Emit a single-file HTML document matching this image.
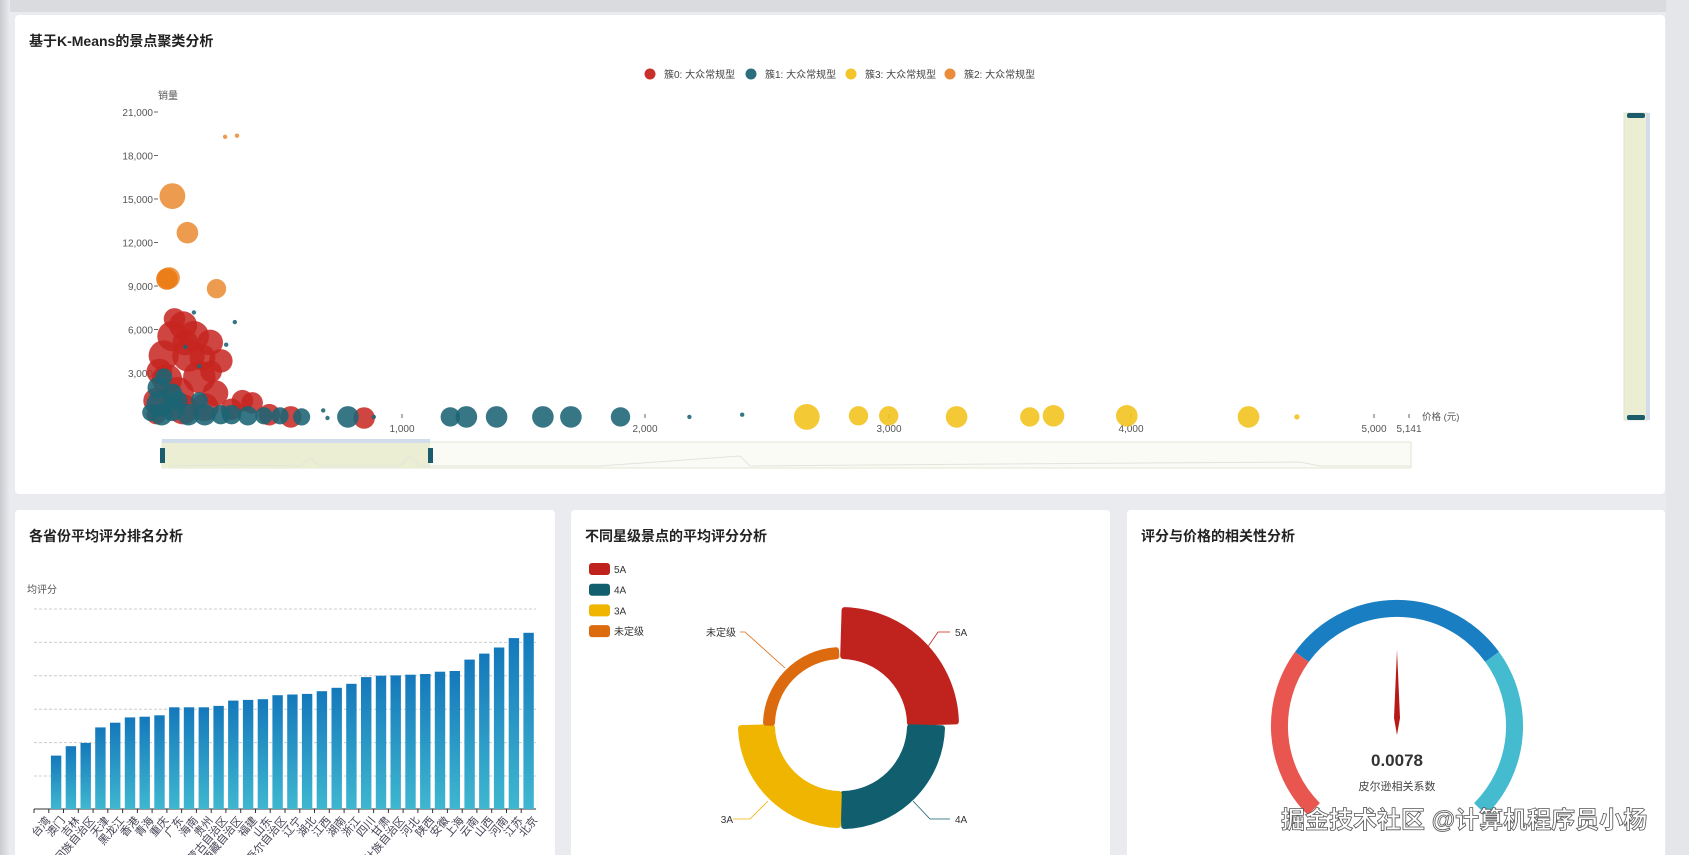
<!DOCTYPE html>
<html><head><meta charset="utf-8">
<style>
html,body{margin:0;padding:0;background:#e9ebef;}
body{width:1689px;height:855px;overflow:hidden;position:relative;font-family:"Liberation Sans","Noto Sans CJK SC",sans-serif;}
svg{position:absolute;left:0;top:0}
text{font-family:"Liberation Sans","Noto Sans CJK SC",sans-serif}
</style></head><body>
<svg id="s" width="1689" height="855" viewBox="0 0 1689 855" xmlns="http://www.w3.org/2000/svg">
<defs>
<linearGradient id="bg" x1="0" y1="0" x2="0" y2="1"><stop offset="0" stop-color="#1478bb"/><stop offset="1" stop-color="#3fb7d0"/></linearGradient>
<linearGradient id="lg" x1="0" y1="0" x2="1" y2="0"><stop offset="0" stop-color="#c9cbd0"/><stop offset="1" stop-color="#e9ebef"/></linearGradient>
</defs>
<rect x="0" y="0" width="1689" height="12" fill="#d9dbdf"/>
<rect x="0" y="0" width="10" height="855" fill="url(#lg)"/>
<rect x="1666" y="0" width="23" height="855" fill="#e4e6ea"/>
<rect x="15" y="15" width="1650" height="479" rx="4" fill="#fff"/>
<rect x="15" y="510" width="540" height="360" rx="4" fill="#fff"/>
<rect x="571" y="510" width="539" height="360" rx="4" fill="#fff"/>
<rect x="1127" y="510" width="538" height="360" rx="4" fill="#fff"/>
<text x="29" y="46" font-size="14" font-weight="bold" fill="#222">基于K-Means的景点聚类分析</text>
<text x="29" y="541" font-size="14" font-weight="bold" fill="#222">各省份平均评分排名分析</text>
<text x="585" y="541" font-size="14" font-weight="bold" fill="#222">不同星级景点的平均评分分析</text>
<text x="1141" y="541" font-size="14" font-weight="bold" fill="#222">评分与价格的相关性分析</text>
<g id="g"></g>
</svg>
<script>
var S=document.getElementById('g'),h='';
function c(x,y,r,f,o){h+='<circle cx="'+x+'" cy="'+y+'" r="'+r+'" fill="'+f+'" fill-opacity="'+(o||0.85)+'"/>';}
function t(x,y,s,sz,col,anc,extra){h+='<text x="'+x+'" y="'+y+'" font-size="'+sz+'" fill="'+col+'" text-anchor="'+(anc||'start')+'" '+(extra||'')+'>'+s+'</text>';}
var lg=[['簇0: 大众常规型','#c9302c'],['簇1: 大众常规型','#2a6f7b'],['簇3: 大众常规型','#f3c52b'],['簇2: 大众常规型','#ea8c3a']];
var lx=[650,751,851,950];
lg.forEach(function(l,i){c(lx[i],74,5.5,l[1],1);t(lx[i]+14,78,l[0],10,'#444');});
t(158,99,'销量',10,'#555');
var yl=['21,000','18,000','15,000','12,000','9,000','6,000','3,000'];
yl.forEach(function(s,i){var y=112+i*43.5;t(153,y+4,s,10,'#555','end');h+='<line x1="154" y1="'+y+'" x2="158" y2="'+y+'" stroke="#666"/>';});
[[402,'1,000'],[645,'2,000'],[889,'3,000'],[1131,'4,000'],[1374,'5,000'],[1409,'5,141']].forEach(function(a){h+='<line x1="'+a[0]+'" y1="414" x2="'+a[0]+'" y2="418" stroke="#666"/>';t(a[0],432,a[1],10,'#555','middle');});
t(1422,420,'价格 (元)',9.5,'#555');
var K=1.0772;
function P(list,col,o){list.forEach(function(p){c((p[0]*K).toFixed(1),(p[1]*K).toFixed(1),(p[2]*K).toFixed(1),col,o);});}
var red=[[160,312,14],[170,302,13],[180,312,14],[195,318,12],[152,330,14],[175,330,15],[205,335,11],[155,352,14],[185,350,15],[165,365,15],[200,365,12],[145,372,12],[225,372,10],[215,380,10],[250,385,10],[270,387,10],[190,378,13],[170,380,14],[148,345,12],[162,296,10],[338,388,10],[234,374,10],[196,345,10],[145,385,9],[172,318,12],[188,332,12]];
var teal=[[147,360,10],[148,375,12],[150,385,10],[160,380,11],[175,385,10],[190,385,10],[205,385,9],[215,385,9],[230,386,9],[245,386,8],[260,386,8],[280,387,8],[160,365,9],[152,350,8],[165,372,9],[185,372,8],[140,383,8],[323,387,10],[418,387,9],[433,387,10],[461,387,10],[504,387,10],[530,387,10],[576,387,9],[300,381,2],[304,388,2],[640,387,2],[689,385,2],[347,387,2],[218,299,2],[180,290,2],[210,320,2],[185,340,2],[172,322,2]];
var orange=[[160,182,12],[174,216,10],[157,258,10],[201,268,9],[209,127,2],[220,126,2]];
P(red,'#c52420',0.85);P(teal,'#1b6474',0.88);P(orange,'#ea8a30',0.85);
c(155*K,259*K,10*K,'#ec7c16',0.95);
var yel=[[749,387,12],[797,386,9],[825,386,9],[888,387,10],[956,387,9],[978,386,10],[1046,386,10],[1159,387,10],[1204,387,2.5]];
P(yel,'#f3c21a',0.88);
h+='<rect x="162" y="442" width="1249" height="26" fill="#fafbf5" stroke="#e2e6d8"/>';
h+='<rect x="162" y="442" width="268" height="26" fill="#eceed3"/>';
h+='<rect x="162" y="439" width="268" height="4" fill="#d3dcea"/>';
h+='<polyline points="170,466 230,465 300,466 310,458 320,466 400,466 410,456 420,466 500,466 600,466 740,456 750,466 1000,464 1300,462 1320,466 1411,466" fill="none" stroke="#e2e5dc"/>';
h+='<rect x="160" y="448" width="5" height="15" fill="#1c5b6b"/><rect x="428" y="448" width="5" height="15" fill="#1c5b6b"/>';
h+='<rect x="1624" y="113" width="24" height="307" fill="#eceed3" stroke="#dfe3d6"/>';
h+='<rect x="1646" y="113" width="4" height="307" fill="#d3dcea"/>';
h+='<rect x="1627" y="113" width="18" height="5" rx="2" fill="#1c5b6b"/><rect x="1627" y="415" width="18" height="5" rx="2" fill="#1c5b6b"/>';
t(27,593,'均评分',10,'#555');
for(var i=0;i<6;i++){var gy=609+i*33.4;h+='<line x1="34" y1="'+gy+'" x2="536" y2="'+gy+'" stroke="#ccc" stroke-dasharray="3,2"/>';}
h+='<line x1="34" y1="809" x2="536" y2="809" stroke="#333"/>';
var bh=[0,53.4,62.8,66.1,81.6,86.3,91.6,92.3,93.7,101.7,101.7,101.7,103.1,108.4,109.1,109.8,113.8,114.5,115.1,117.8,121.2,125.2,131.9,133.3,133.6,134.3,135,137.3,138,149.4,155.4,161.5,170.9,176.2];
var nm=['台湾','澳门','吉林','宁夏回族自治区','天津','黑龙江','香港','青海','重庆','广东','海南','贵州','内蒙古自治区','西藏自治区','福建','山东','新疆维吾尔自治区','辽宁','湖北','江西','湖南','浙江','四川','甘肃','广西壮族自治区','河北','陕西','安徽','上海','云南','山西','河南','江苏','北京'];
var sw=502/34;
bh.forEach(function(v,i){var cx=34+sw*(i+0.5);if(v>0)h+='<rect x="'+(cx-5.2).toFixed(1)+'" y="'+(809-v).toFixed(1)+'" width="10.4" height="'+v+'" fill="url(#bg)"/>';
h+='<line x1="'+(34+sw*i).toFixed(1)+'" y1="809" x2="'+(34+sw*i).toFixed(1)+'" y2="813" stroke="#333"/>';
t((cx+4).toFixed(1),816,nm[i],11,'#445','end','transform="rotate(-50 '+(cx+4).toFixed(1)+' 816)" dominant-baseline="hanging"');});
var CX=841,CY=725,RI=66;
function arc(a0,a1,ro,col){var ri=RI+3;ro-=3;a0+=1.8;a1-=1.8;function pt(r,a){var q=(a-90)*Math.PI/180;return (CX+r*Math.cos(q)).toFixed(1)+','+(CY+r*Math.sin(q)).toFixed(1);}
h+='<path d="M'+pt(ri,a0)+' L'+pt(ro,a0)+' A'+ro+','+ro+' 0 0 1 '+pt(ro,a1)+' L'+pt(ri,a1)+' A'+ri+','+ri+' 0 0 0 '+pt(ri,a0)+'Z" fill="'+col+'" stroke="'+col+'" stroke-width="6" stroke-linejoin="round"/>';}
arc(0,90,118,'#c0231e');arc(90,180,104,'#115e6e');arc(180,270,103,'#efb500');arc(270,358,78,'#dc6a0e');
h+='<polyline points="925,651 938,632 950,632" fill="none" stroke="#c0231e" stroke-width="0.8"/>';
h+='<polyline points="913,801 930,819 950,819" fill="none" stroke="#115e6e" stroke-width="0.8"/>';
h+='<polyline points="768,801 750,819 733,819" fill="none" stroke="#efb500" stroke-width="0.8"/>';
h+='<polyline points="785,668 745,632 740,632" fill="none" stroke="#dc6a0e" stroke-width="0.8"/>';
t(955,636,'5A',10,'#333');t(955,823,'4A',10,'#333');t(733,823,'3A',10,'#333','end');t(736,636,'未定级',10,'#333','end');
[['5A','#c0231e'],['4A','#115e6e'],['3A','#efb500'],['未定级','#dc6a0e']].forEach(function(l,i){var y=563+i*20.7;h+='<rect x="589" y="'+y+'" width="21" height="12" rx="3" fill="'+l[1]+'"/>';t(614,y+10,l[0],10,'#333');});
var GX=1397,GY=726,GR=117.5;
function garc(a0,a1,col){function pt(a){var q=a*Math.PI/180;return (GX+GR*Math.cos(q)).toFixed(1)+','+(GY-GR*Math.sin(q)).toFixed(1);}
h+='<path d="M'+pt(a0)+' A'+GR+','+GR+' 0 0 1 '+pt(a1)+'" fill="none" stroke="'+col+'" stroke-width="17"/>';}
garc(225,144,'#e8564f');garc(144,36,'#1a7fc2');garc(36,-45,'#45bbd0');
h+='<polygon points="1397,650 1400,718 1397,735 1394,718" fill="#b71a16"/>';
t(1397,766,'0.0078',17,'#333','middle','font-weight="bold"');
t(1397,790,'皮尔逊相关系数',11,'#444','middle');
t(1281,828,'掘金技术社区 @计算机程序员小杨',24,'#fff','start','stroke="#555" stroke-width="0.8" font-weight="bold"');
S.innerHTML=h;
</script>
</body></html>
